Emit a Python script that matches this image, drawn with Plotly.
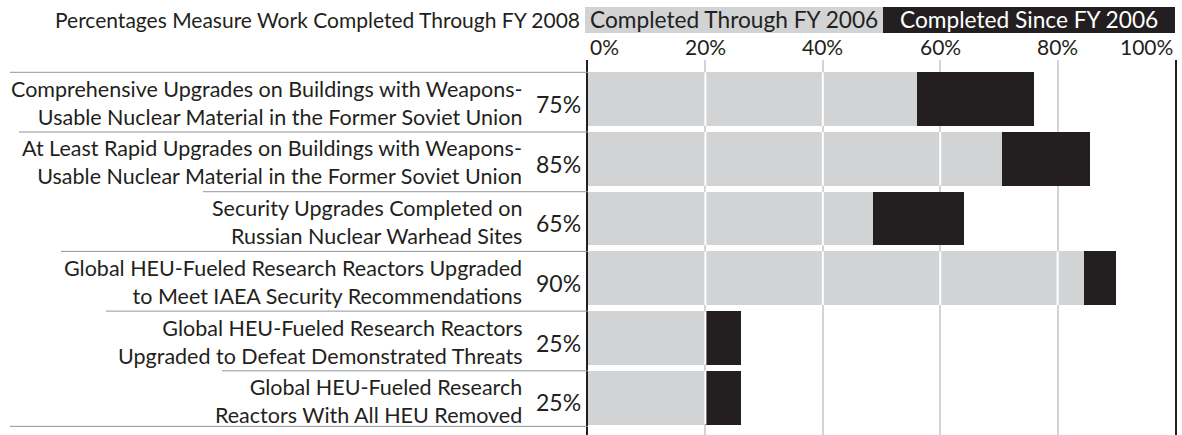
import plotly.graph_objects as go

# ---------------- data ----------------
CATEGORY_LINES = [
    ["Comprehensive Upgrades on Buildings with Weapons-", "Usable Nuclear Material in the Former Soviet Union"],
    ["At Least Rapid Upgrades on Buildings with Weapons-", "Usable Nuclear Material in the Former Soviet Union"],
    ["Security Upgrades Completed on", "Russian Nuclear Warhead Sites"],
    ["Global HEU-Fueled Research Reactors Upgraded", "to Meet IAEA Security Recommendations"],
    ["Global HEU-Fueled Research Reactors", "Upgraded to Defeat Demonstrated Threats"],
    ["Global HEU-Fueled Research", "Reactors With All HEU Removed"],
]
PCT_LABELS = ["75%", "85%", "65%", "90%", "25%", "25%"]
THROUGH_2006 = [56, 70.5, 48.5, 84.5, 20, 20]
SINCE_2006 = [20, 15, 15.5, 5.5, 6, 6]
TICK_VALUES = [0, 20, 40, 60, 80, 100]
TICK_LABELS = ["0%", "20%", "40%", "60%", "80%", "100%"]
SERIES_NAMES = ["Completed Through FY 2006", "Completed Since FY 2006"]
TITLE = "Percentages Measure Work Completed Through FY 2008"

# ---------------- style ----------------
W, H = 1182, 435
PL, PR, PT, PB = 588, 1175, 60, 435
GRAY = "#d1d3d4"
BLACK = "#231f20"
SEP = "#939598"
FONT = "Lato"
SEP_START_PX = [10, 19, 203, 61, 106, 222]
BOTTOM_SEP_PX = 10


def px_x(px):
    return (px - PL) / (PR - PL)


def px_y(py):
    return (PB - py) / (PB - PT)


n = len(THROUGH_2006)
ys = list(range(n))

fig = go.Figure()
fig.add_trace(go.Bar(
    y=ys, x=THROUGH_2006, orientation="h", marker=dict(color=GRAY, line=dict(width=0)),
    width=0.9, offset=-0.5, name=SERIES_NAMES[0], hoverinfo="skip"))
fig.add_trace(go.Bar(
    y=ys, x=SINCE_2006, orientation="h", marker=dict(color=BLACK, line=dict(width=0)),
    width=0.9, offset=-0.5, name=SERIES_NAMES[1], hoverinfo="skip"))

# white gridline segments over the gray bars
gx, gy = [], []
for i, g_end in enumerate(THROUGH_2006):
    for t in TICK_VALUES[1:-1]:
        if t <= g_end:
            gx += [t, t, None]
            gy += [i - 0.5, i + 0.4, None]
fig.add_trace(go.Scatter(x=gx, y=gy, mode="lines", line=dict(color="white", width=2),
                         hoverinfo="skip", showlegend=False))

shapes = []
annotations = []

# row separators
for i, sx in enumerate(SEP_START_PX):
    shapes.append(dict(type="line", xref="paper", yref="y", x0=px_x(sx), x1=0,
                       y0=i - 0.5, y1=i - 0.5, line=dict(color=SEP, width=1)))
shapes.append(dict(type="line", xref="paper", yref="y", x0=px_x(BOTTOM_SEP_PX), x1=0,
                   y0=n - 1 + 0.43, y1=n - 1 + 0.43, line=dict(color=SEP, width=1)))

# row labels
for i, lines in enumerate(CATEGORY_LINES):
    annotations.append(dict(xref="paper", yref="y", x=px_x(524), y=i + 0.01,
                            text="<br>".join(lines), showarrow=False, xanchor="right",
                            yanchor="middle", align="right",
                            font=dict(family=FONT, size=21.5, color=BLACK)))
    annotations.append(dict(xref="paper", yref="y", x=px_x(583), y=i + 0.03,
                            text=PCT_LABELS[i], showarrow=False, xanchor="right",
                            yanchor="middle", font=dict(family=FONT, size=23, color=BLACK)))

# tick labels
for k, (tv, tl) in enumerate(zip(TICK_VALUES, TICK_LABELS)):
    anchor = "left" if k == 0 else ("right" if k == len(TICK_VALUES) - 1 else "center")
    annotations.append(dict(xref="x", yref="paper", x=tv, y=1, yshift=-1, text=tl,
                            showarrow=False, xanchor=anchor, yanchor="bottom",
                            font=dict(family=FONT, size=21, color=BLACK)))

# title + legend boxes
annotations.append(dict(xref="paper", yref="paper", x=px_x(582), y=px_y(20), text=TITLE,
                        showarrow=False, xanchor="right", yanchor="middle",
                        font=dict(family=FONT, size=21, color=BLACK)))
shapes.append(dict(type="rect", xref="paper", yref="paper", x0=px_x(585), x1=px_x(883),
                   y0=px_y(33), y1=px_y(7), fillcolor=GRAY, line=dict(width=0), layer="below"))
shapes.append(dict(type="rect", xref="paper", yref="paper", x0=px_x(883), x1=px_x(1175),
                   y0=px_y(33), y1=px_y(7), fillcolor=BLACK, line=dict(width=0), layer="below"))
annotations.append(dict(xref="paper", yref="paper", x=px_x(734), y=px_y(20), text=SERIES_NAMES[0],
                        showarrow=False, xanchor="center", yanchor="middle",
                        font=dict(family=FONT, size=22.7, color=BLACK)))
annotations.append(dict(xref="paper", yref="paper", x=px_x(1029), y=px_y(20), text=SERIES_NAMES[1],
                        showarrow=False, xanchor="center", yanchor="middle",
                        font=dict(family=FONT, size=22.7, color="white")))

fig.update_layout(
    width=W, height=H,
    margin=dict(l=PL, r=W - PR, t=PT, b=H - PB, pad=0),
    paper_bgcolor="white", plot_bgcolor="white",
    barmode="stack", bargap=0, showlegend=False,
    shapes=shapes, annotations=annotations,
    xaxis=dict(range=[0, 100], showgrid=True, gridcolor=GRAY, gridwidth=2,
               tickvals=TICK_VALUES, showticklabels=False, zeroline=False, showline=False,
               fixedrange=True),
    yaxis=dict(range=[n - 1 + 0.575, -0.706], showgrid=False, showticklabels=False,
               zeroline=False, showline=True, linecolor=BLACK, linewidth=2, mirror=True,
               fixedrange=True),
)

fig.write_html("out.html", config={"displayModeBar": False},
               post_script="document.body.style.margin='0';document.body.style.overflow='hidden';")
